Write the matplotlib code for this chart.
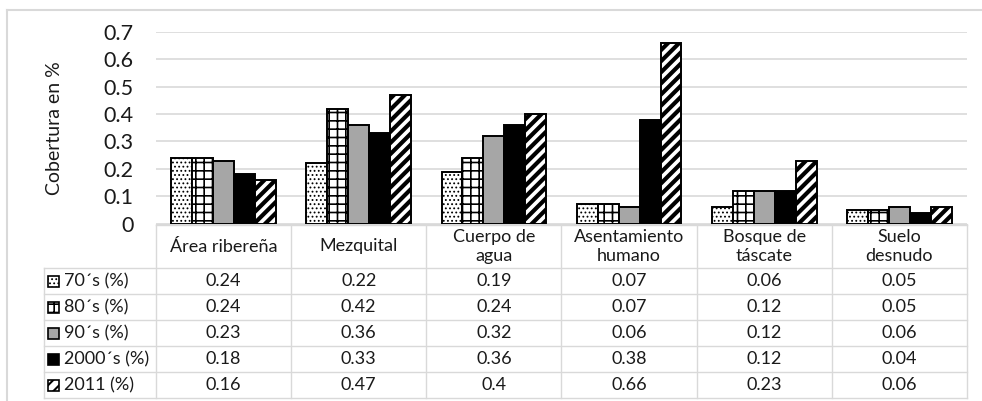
import matplotlib.pyplot as plt
from matplotlib.patches import Rectangle

# chart data
categories = ["Área ribereña", "Mezquital", "Cuerpo de\nagua", "Asentamiento\nhumano",
              "Bosque de\ntáscate", "Suelo\ndesnudo"]
series = ["70´s (%)", "80´s (%)", "90´s (%)", "2000´s (%)", "2011 (%)"]
v70 = [0.24, 0.22, 0.19, 0.07, 0.06, 0.05]
v80 = [0.24, 0.42, 0.24, 0.07, 0.12, 0.05]
v90 = [0.23, 0.36, 0.32, 0.06, 0.12, 0.06]
v2000 = [0.18, 0.33, 0.36, 0.38, 0.12, 0.04]
v2011 = [0.16, 0.47, 0.4, 0.66, 0.23, 0.06]
values = [v70, v80, v90, v2000, v2011]
yticks = [0, 0.1, 0.2, 0.3, 0.4, 0.5, 0.6, 0.7]
ytick_labels = ["0", "0.1", "0.2", "0.3", "0.4", "0.5", "0.6", "0.7"]

# (facecolor, hatch, hatch linewidth)
styles = [("white", "....", 0.8),
          ("white", "++", 1.2),
          ("#a6a6a6", None, 1.0),
          ("black", None, 1.0),
          ("white", "///", 3.0)]

plt.rcParams['font.family'] = ['Lato', 'DejaVu Sans']
W, H = 982, 401
fig = plt.figure(figsize=(W / 100, H / 100), dpi=100)

grid_c = "#d9d9d9"
txt_c = "#1a1a1a"

# layout in pixels
x0, x1 = 156, 967
y_top, y_zero = 32, 223.5
ax = fig.add_axes([x0 / W, 1 - y_zero / H, (x1 - x0) / W, (y_zero - y_top) / H])

n = len(categories)
bw = 0.155
for i, (vals, (fc, hat, hlw)) in enumerate(zip(values, styles)):
    xs = [c + (i - 2) * bw for c in range(n)]
    with plt.rc_context({'hatch.linewidth': hlw}):
        ax.bar(xs, vals, width=bw, color=fc, edgecolor="black", linewidth=1.4,
               hatch=hat, zorder=3)

ax.set_xlim(-0.5, n - 0.5)
ax.set_ylim(0, 0.7)
ax.set_yticks(yticks)
ax.set_yticklabels(ytick_labels, fontsize=15.5, color=txt_c)
ax.set_xticks([])
ax.tick_params(axis='y', length=0, pad=16)
ax.grid(axis='y', color=grid_c, linewidth=1.2, zorder=0)
for s in ["top", "right", "left"]:
    ax.spines[s].set_visible(False)
ax.spines["bottom"].set_color(grid_c)

fig.text(54 / W, 1 - 128 / H, "Cobertura en %", rotation=90, ha="center", va="center",
         fontsize=14, color=txt_c)

# data table below the chart
tab = fig.add_axes([0, 0, 1, 1])
tab.set_xlim(0, W)
tab.set_ylim(H, 0)
tab.axis("off")
tab.patch.set_alpha(0)

lab_x = 44
colw = (x1 - x0) / n
hdr_top, hdr_bot, row_h = 225, 268, 26
nrows = len(series)
tab_bot = hdr_bot + nrows * row_h

# outer frame of figure (top and left)
tab.plot([7, W], [10, 10], color=grid_c, lw=1.5)
tab.plot([7, 7], [10, H], color=grid_c, lw=1.5)

# horizontal lines
tab.plot([x0, x1], [hdr_top, hdr_top], color=grid_c, lw=1)
for r in range(nrows + 1):
    y = hdr_bot + r * row_h
    tab.plot([lab_x, x1], [y, y], color=grid_c, lw=1)
# vertical lines
tab.plot([lab_x, lab_x], [hdr_bot, tab_bot], color=grid_c, lw=1)
for c in range(n + 1):
    x = x0 + c * colw
    tab.plot([x, x], [hdr_top, tab_bot], color=grid_c, lw=1)

fs = 13

# header
for c, cat in enumerate(categories):
    tab.text(x0 + (c + 0.5) * colw, (hdr_top + hdr_bot) / 2, cat, ha="center", va="center",
             fontsize=fs, color=txt_c, linespacing=1.25)

# rows
for r, (name, vals, (fc, hat, hlw)) in enumerate(zip(series, values, styles)):
    yc = hdr_bot + (r + 0.5) * row_h
    with plt.rc_context({'hatch.linewidth': min(hlw, 1.5)}):
        tab.add_patch(Rectangle((48, yc - 5.5), 11, 11, facecolor=fc, edgecolor="black",
                                lw=1.2, hatch=hat))
    tab.text(64, yc, name, ha="left", va="center", fontsize=fs, color=txt_c)
    for c, v in enumerate(vals):
        tab.text(x0 + (c + 0.5) * colw, yc, f"{v:g}", ha="center", va="center",
                 fontsize=fs, color=txt_c)

fig.savefig("out.png", dpi=100)
